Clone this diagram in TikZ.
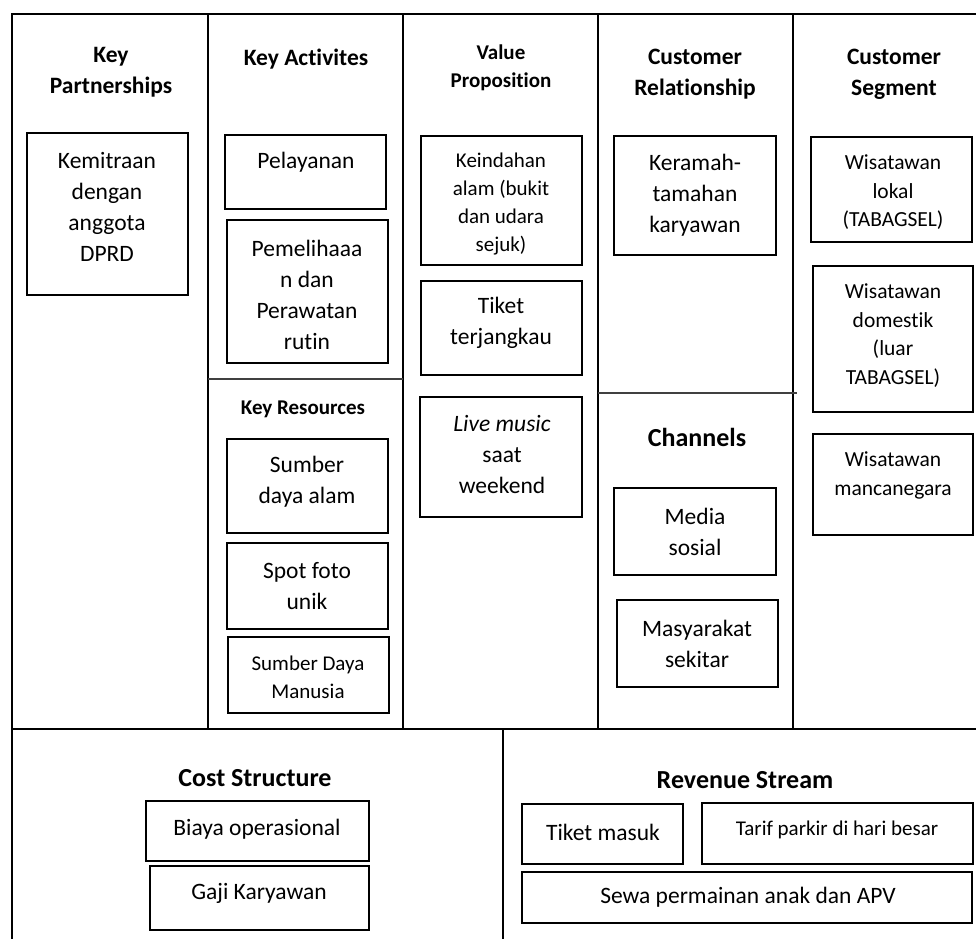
\documentclass[tikz,border=0pt]{standalone}
\usepackage{fontspec}
\setmainfont{Carlito}[Ligatures=NoCommon]
\begin{document}
\begin{tikzpicture}[x=1pt,y=-1pt,
  frame/.style={line width=2pt, line cap=rect},
  divider/.style={line width=1.2pt, draw=black!75},
  box/.style={draw, line width=2pt, inner sep=0pt},
  hd/.style={font=\bfseries\fontsize{23.5}{31}\selectfont, align=center, inner sep=0pt},
  hdsmall/.style={font=\bfseries\fontsize{21}{28}\selectfont, align=center, inner sep=0pt},
  hdbig/.style={font=\bfseries\fontsize{26}{32}\selectfont, align=center, inner sep=0pt},
  txt/.style={font=\fontsize{23.5}{31}\selectfont, align=center, inner sep=0pt},
  txtsmall/.style={font=\fontsize{21}{28}\selectfont, align=center, inner sep=0pt},
  txtseg/.style={font=\fontsize{21.5}{28.5}\selectfont, align=center, inner sep=0pt}]
\useasboundingbox (0,0) rectangle (976,938);
% frame
\draw[frame] (12,938) -- (12,14) -- (976,14);
\draw[frame] (12,729) -- (976,729);
\foreach \xx in {208,403,598,793} \draw[frame] (\xx,14) -- (\xx,729);
\draw[frame] (503,729) -- (503,938);
\draw[divider] (208,379) -- (403,379);
\draw[divider] (598,393) -- (797,393);
% headers
\node[hd] (kph) at (111,72) {Key\\Partnerships};
\node[hd] (kah) at (306,59) {Key Activites};
\node[hdsmall] (vph) at (501,68) {Value\\Proposition};
\node[hd] (crh) at (695,74) {Customer\\Relationship};
\node[hd] (csh) at (894,74) {Customer\\Segment};
\node[hdsmall] (krh) at (303,409) {Key Resources};
\node[hdbig] (chh) at (697,437) {Channels};
\node[hdbig] (costh) at (255,778) {Cost Structure};
\node[hdbig] (revh) at (745,780) {Revenue Stream};
% boxes
\node[box, minimum width=161, minimum height=162] (kp) at (107.5,214) {};
\node[box, minimum width=161, minimum height=74] (ka1) at (305.5,172) {};
\node[box, minimum width=161, minimum height=143] (ka2) at (307.5,291.5) {};
\node[box, minimum width=161, minimum height=129] (vp1) at (501.5,200.5) {};
\node[box, minimum width=161, minimum height=94] (vp2) at (501.5,328) {};
\node[box, minimum width=162, minimum height=120] (vp3) at (501,457) {};
\node[box, minimum width=162, minimum height=119] (cr1) at (695,195.5) {};
\node[box, minimum width=161, minimum height=105] (cs1) at (891.5,189.5) {};
\node[box, minimum width=160, minimum height=146] (cs2) at (893,339) {};
\node[box, minimum width=160, minimum height=101] (cs3) at (893,484.5) {};
\node[box, minimum width=161, minimum height=94] (kr1) at (307.5,486) {};
\node[box, minimum width=161, minimum height=86] (kr2) at (307.5,586) {};
\node[box, minimum width=161, minimum height=76] (kr3) at (308.5,675) {};
\node[box, minimum width=162, minimum height=87] (ch1) at (695,531.5) {};
\node[box, minimum width=161, minimum height=87] (ch2) at (697.5,643.5) {};
\node[box, minimum width=223, minimum height=60] (c1) at (257.5,831) {};
\node[box, minimum width=219, minimum height=64] (c2) at (259.5,898) {};
\node[box, minimum width=161, minimum height=60] (r1) at (602.5,834) {};
\node[box, minimum width=271, minimum height=61] (r2) at (837.5,833.5) {};
\node[box, minimum width=450, minimum height=51] (r3) at (747,897.5) {};
% texts
\node[txt] (kpt) at (107,207) {Kemitraan\\dengan\\anggota\\DPRD};
\node[txt] (ka1t) at (306,162) {Pelayanan};
\node[txt] (ka2t) at (307,295) {Pemelihaaa\\n dan\\Perawatan\\rutin};
\node[txtsmall] (vp1t) at (501,204) {Keindahan\\alam (bukit\\dan udara\\sejuk)};
\node[txt] (vp2t) at (501,322.5) {Tiket\\terjangkau};
\node[txt] (vp3t) at (502,454.5) {\textit{Live music}\\saat\\weekend};
\node[txt] (cr1t) at (695,195.5) {Keramah-\\tamahan\\karyawan};
\node[txtseg] (cs1t) at (893,192.5) {Wisatawan\\lokal\\(TABAGSEL)};
\node[txtseg] (cs2t) at (893,335.5) {Wisatawan\\domestik\\(luar\\TABAGSEL)};
\node[txtseg] (cs3t) at (893,475.5) {Wisatawan\\mancanegara};
\node[txt] (kr1t) at (307,481.5) {Sumber\\daya alam};
\node[txt] (kr2t) at (307,586) {Spot foto\\unik};
\node[txtsmall] (kr3t) at (308,677) {Sumber Daya\\Manusia};
\node[txt] (ch1t) at (695,531.5) {Media\\sosial};
\node[txt] (ch2t) at (697,644) {Masyarakat\\sekitar};
\node[txt] (c1t) at (257,829) {Biaya operasional};
\node[txt] (c2t) at (259,893) {Gaji Karyawan};
\node[txt] (r1t) at (603,832) {Tiket masuk};
\node[txtsmall] (r2t) at (837,830) {Tarif parkir di hari besar};
\node[txt] (r3t) at (748,897) {Sewa permainan anak dan APV};
\end{tikzpicture}
\end{document}
